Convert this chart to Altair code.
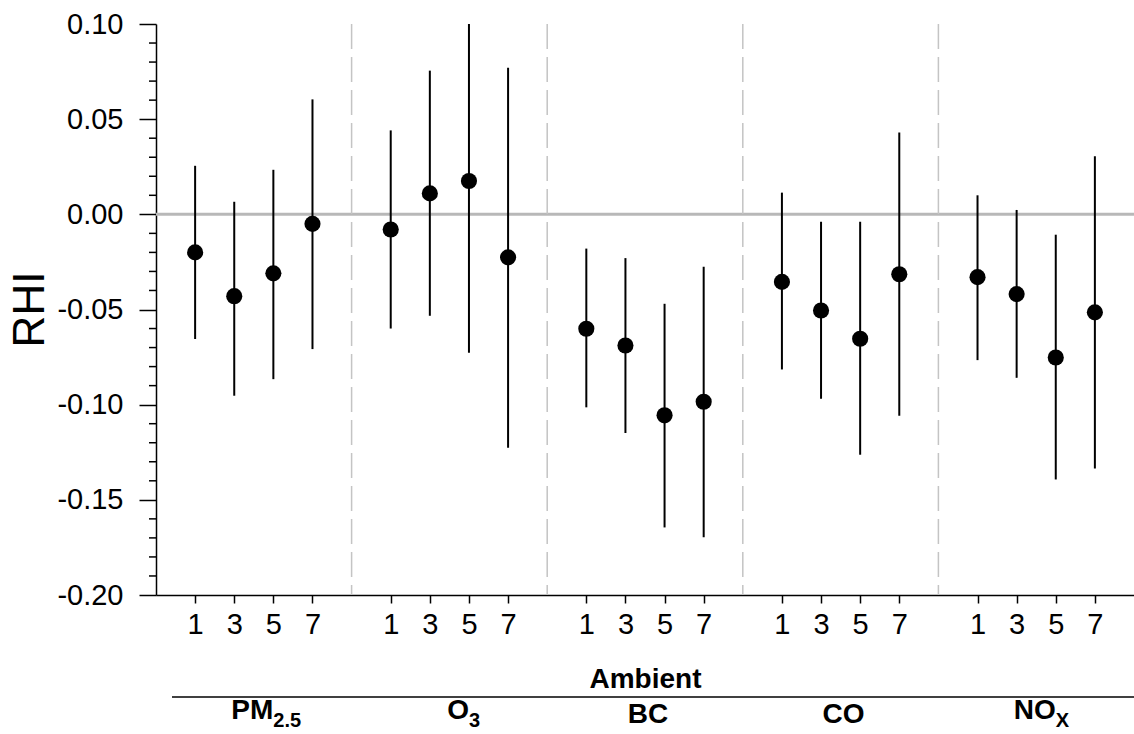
import altair as alt
import pandas as pd

# ---------------- data ----------------
pollutants = ["PM2.5", "O3", "BC", "CO", "NOx"]
label_main = ["PM", "O", "BC", "CO", "NO"]
label_sub = ["2.5", "3", "", "", "X"]
lags = [1, 3, 5, 7]

rhi = [
    -0.020, -0.043, -0.031, -0.005,
    -0.008, 0.011, 0.0175, -0.0226,
    -0.0601, -0.0689, -0.1056, -0.0985,
    -0.0355, -0.0505, -0.0654, -0.0315,
    -0.033, -0.0419, -0.0752, -0.0515,
]
lower = [
    -0.0655, -0.0953, -0.0866, -0.0708,
    -0.0600, -0.0533, -0.0727, -0.1226,
    -0.1014, -0.1149, -0.1645, -0.1696,
    -0.0815, -0.0969, -0.1263, -0.1058,
    -0.0766, -0.0859, -0.1393, -0.1335,
]
upper = [
    0.0255, 0.0066, 0.0234, 0.0604,
    0.0441, 0.0755, 0.1000, 0.0770,
    -0.0180, -0.0230, -0.0470, -0.0275,
    0.0114, -0.0039, -0.0039, 0.0430,
    0.0100, 0.0023, -0.0107, 0.0305,
]

y_major = [-0.20, -0.15, -0.10, -0.05, 0.00, 0.05, 0.10]
y_minor = [round(-0.20 + 0.01 * i, 2) for i in range(31)]
y_minor = [v for v in y_minor if round(v * 100) % 5 != 0]

# ---------------- tables ----------------
GROUP = len(lags) + 1
rows = []
i = 0
for g, p in enumerate(pollutants):
    for k, lag in enumerate(lags):
        rows.append(dict(pollutant=p, lag=lag, pos=g * GROUP + k,
                         rhi=rhi[i], lo=lower[i], hi=upper[i]))
        i += 1
df = pd.DataFrame(rows)

sep_df = pd.DataFrame({"pos": [g * GROUP + len(lags) for g in range(len(pollutants) - 1)]})
minor_df = pd.DataFrame({"v": y_minor})

lab_rows = []
for g, p in enumerate(pollutants):
    center = g * GROUP + (len(lags) - 1) / 2
    lab_rows.append(dict(main=label_main[g], sub=label_sub[g],
                         center=center, anchor=center + 0.5))
lab_df = pd.DataFrame(lab_rows)
lab_sub_df = lab_df[lab_df["sub"] != ""]
lab_plain_df = lab_df[lab_df["sub"] == ""]

FONT = "Liberation Sans"

xscale = alt.Scale(domain=[-1, 24], nice=False, zero=False)
yscale = alt.Scale(domain=[-0.20, 0.10], nice=False, zero=False)

lag_labels = "[" + ",".join("'%d'" % l for l in lags) + "]"

x_axis = alt.Axis(
    values=list(df["pos"]),
    labelExpr=f"{lag_labels}[datum.value % {GROUP}]",
    grid=False, tickSize=8, tickWidth=1.5, tickColor="black",
    domainColor="black", domainWidth=1.5,
    labelFontSize=29, labelPadding=7, labelColor="black", labelFont=FONT,
    labelFlush=False, labelOverlap=False,
    title="Ambient", titleFontSize=28, titleFontWeight="bold", titleFont=FONT,
    titleColor="black", titleY=92, titleBaseline="alphabetic",
)
y_axis = alt.Axis(
    values=y_major,
    labelExpr="(datum.value < -0.0001 ? '-' : '') + format(abs(datum.value), '.2f')",
    grid=False, tickSize=17, tickWidth=1.5, tickColor="black",
    domainColor="black", domainWidth=1.5,
    labelFontSize=29, labelPadding=16, labelColor="black", labelFont=FONT,
    labelFlush=False, labelOverlap=False,
    title="RHI", titleFontSize=44, titleFontWeight="normal", titleFont=FONT,
    titleColor="black", titleAngle=270, titleX=-126, titleY=285,
    titleAlign="center", titleBaseline="middle",
)

zero = alt.Chart(pd.DataFrame({"z": [0.0]})).mark_rule(
    color="#b8b8b8", strokeWidth=3
).encode(y=alt.Y("z:Q", scale=yscale, axis=y_axis))

seps = alt.Chart(sep_df).mark_rule(
    color="#c4c4c4", strokeWidth=1.5, strokeDash=[25, 8]
).encode(x=alt.X("pos:Q", scale=xscale, axis=x_axis))

minor = alt.Chart(minor_df).mark_rule(color="black", strokeWidth=1.5).encode(
    y=alt.Y("v:Q", scale=yscale), x=alt.value(-7), x2=alt.value(0)
)

bars = alt.Chart(df).mark_rule(color="black", strokeWidth=2).encode(
    x=alt.X("pos:Q", scale=xscale),
    y=alt.Y("lo:Q", scale=yscale),
    y2="hi:Q",
)
pts = alt.Chart(df).mark_circle(color="black", size=260, opacity=1).encode(
    x=alt.X("pos:Q", scale=xscale),
    y=alt.Y("rhi:Q", scale=yscale),
)

hline = alt.Chart(pd.DataFrame({"a": [0]})).mark_rule(color="black", strokeWidth=1.5).encode(
    x=alt.value(16), x2=alt.value(978), y=alt.value(673)
)

main_txt = alt.Chart(lab_sub_df).mark_text(
    font=FONT, fontSize=28, fontWeight="bold", align="right", baseline="alphabetic", color="black"
).encode(x=alt.X("anchor:Q", scale=xscale), y=alt.value(695), text="main:N")
sub_txt = alt.Chart(lab_sub_df).mark_text(
    font=FONT, fontSize=20, fontWeight="bold", align="left", baseline="alphabetic", color="black"
).encode(x=alt.X("anchor:Q", scale=xscale), y=alt.value(703), text="sub:N")
plain_txt = alt.Chart(lab_plain_df).mark_text(
    font=FONT, fontSize=28, fontWeight="bold", align="center", baseline="alphabetic", color="black", dx=3
).encode(x=alt.X("center:Q", scale=xscale), y=alt.value(699), text="main:N")

chart = alt.layer(
    zero, seps, minor, bars, pts, hline, main_txt, sub_txt, plain_txt
).properties(
    width=978, height=571,
    padding={"left": 156, "top": 24, "right": 0, "bottom": 139},
    autosize=alt.AutoSizeParams(type="none"),
    background="white",
).configure_view(strokeWidth=0)

chart.save("out.html", embed_options={"renderer": "svg", "actions": False})
